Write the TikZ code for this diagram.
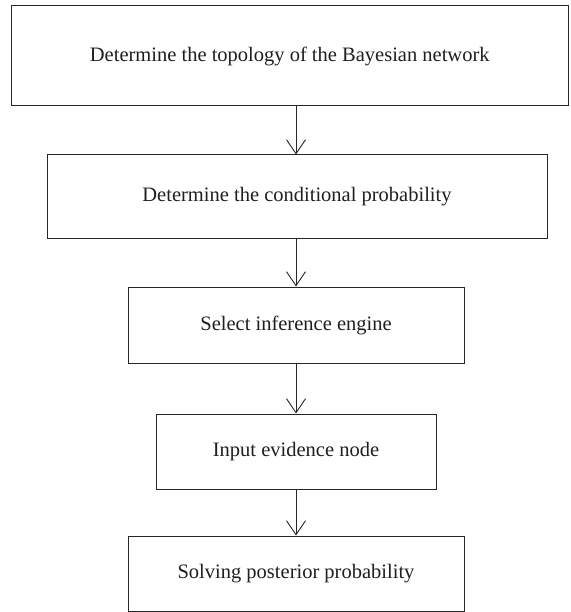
\documentclass[tikz,border=0pt]{standalone}
\usepackage{fontspec}
\setmainfont{Liberation Serif}
\usetikzlibrary{arrows.meta}
\begin{document}
\begin{tikzpicture}[x=1pt,y=-1pt,
  stepbox/.style={draw=black!85, line width=1pt, fill=white, inner sep=0pt,
    font=\fontsize{20.5}{24}\selectfont, text=black!88},
  flow/.style={draw=black!85, line width=0.9pt,
    -{Straight Barb[length=14pt,width=19pt,line width=0.9pt]}}]
  \useasboundingbox (0,0) rectangle (570,612);
  % flow steps, top to bottom
  \node[stepbox, minimum width=557pt, minimum height=100pt] (b1) at (289.75,56)
    {Determine the topology of the Bayesian network};
  \node[stepbox, minimum width=500pt, minimum height=83pt] (b2) at (297,196.5)
    {Determine the conditional probability};
  \node[stepbox, minimum width=336pt, minimum height=76pt] (b3) at (296,325)
    {Select inference engine};
  \node[stepbox, minimum width=280pt, minimum height=75pt] (b4) at (296,451.5)
    {Input evidence node};
  \node[stepbox, minimum width=336pt, minimum height=75pt] (b5) at (296,573.5)
    {Solving posterior probability};
  % connectors between consecutive steps
  \draw[flow] (b1.south -| b3.north) -- (b2.north -| b3.north);
  \draw[flow] (b2.south -| b3.north) -- (b3.north);
  \draw[flow] (b3.south) -- (b4.north);
  \draw[flow] (b4.south) -- (b5.north);
\end{tikzpicture}
\end{document}
